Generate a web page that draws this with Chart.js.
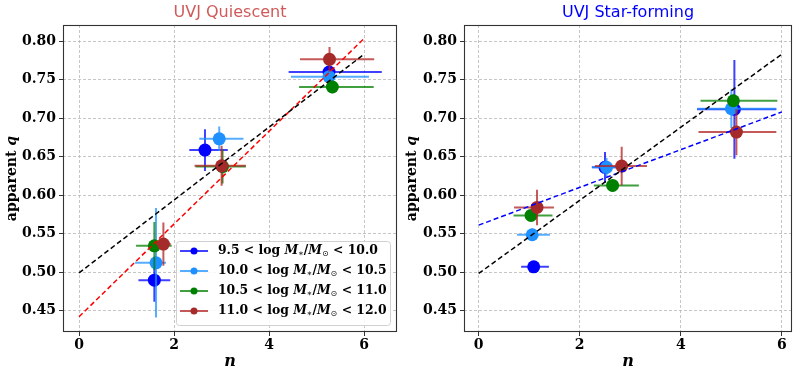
<!DOCTYPE html>
<html><head><meta charset="utf-8">
<script src="https://cdn.jsdelivr.net/npm/chart.js@4/dist/chart.umd.min.js"></script>
<style>
html,body{margin:0;padding:0;background:#fff;}
#wrap{position:relative;width:793px;height:372px;overflow:hidden;background:#fff;}
#c1{position:absolute;left:0;top:0;width:400px;height:372px;}
#c2{position:absolute;left:400px;top:0;width:393px;height:372px;}
</style></head><body>
<div id="wrap"><canvas id="c1" width="400" height="372"></canvas><canvas id="c2" width="393" height="372"></canvas></div>
<script>
// ---------- data ----------
const binLow  = ['9.5', '10.0', '10.5', '11.0'];
const binHigh = ['10.0', '10.5', '11.0', '12.0'];
const binColors = ['#0000ff', '#1e90ff', '#008000', '#a52a2a'];
const binErrColors = ['rgba(0,0,255,0.75)', 'rgba(30,144,255,0.75)', 'rgba(0,128,0,0.75)', 'rgba(178,34,34,0.75)'];
const xTicks = [0, 2, 4, 6];
const yTicks = [0.45, 0.50, 0.55, 0.60, 0.65, 0.70, 0.75, 0.80];
const fitN = [0, 6];

// UVJ Quiescent (per mass bin: blue, light blue, green, dark red)
const quiN    = [[1.585, 2.65, 5.26], [1.62, 2.95, 5.26], [1.585, 3.02, 5.33], [1.775, 3.00, 5.27]];
const quiQ    = [[0.4896, 0.6584, 0.7597], [0.5121, 0.6731, 0.7537], [0.5342, 0.637, 0.7403], [0.5364, 0.638, 0.7762]];
const quiNlo  = [[1.25, 2.32, 4.41], [1.18, 2.53, 4.46], [1.20, 2.45, 4.63], [1.62, 2.43, 4.65]];
const quiNhi  = [[1.92, 3.13, 6.37], [1.83, 3.46, 6.10], [1.95, 3.51, 6.20], [1.93, 3.51, 6.21]];
const quiQerr = [[0.028, 0.027, 0.010], [0.071, 0.016, 0.008], [0.031, 0.022, 0.008], [0.028, 0.026, 0.016]];
const quiFitAll = [0.499, 0.783];
const quiFitRed = [0.442, 0.8035];

// UVJ Star-forming
const sfN    = [[1.089, 2.50, 5.06], [1.06, 2.53, 5.00], [1.036, 2.65, 5.04], [1.155, 2.83, 5.10]];
const sfQ    = [[0.5069, 0.636, 0.7113], [0.5485, 0.636, 0.7121], [0.5736, 0.6126, 0.7225], [0.584, 0.6377, 0.6818]];
const sfNlo  = [[0.84, 2.24, 4.32], [0.76, 2.24, 4.32], [0.69, 2.28, 4.39], [0.70, 2.30, 4.35]];
const sfNhi  = [[1.39, 2.82, 5.89], [1.41, 2.82, 5.89], [1.46, 3.17, 5.91], [1.49, 3.33, 5.89]];
const sfQerr = [[0.006, 0.020, 0.064], [0.008, 0.012, 0.025], [0.005, 0.008, 0.008], [0.023, 0.025, 0.030]];
const sfFitAll = [0.4983, 0.783];
const sfFitBlue = [0.561, 0.708];

// ---------- plugins ----------
const SERIF = '"DejaVu Serif", serif';
const errPlugin = {
  id: 'errbars',
  beforeDatasetDraw(chart, args) {
    const ds = chart.data.datasets[args.index];
    if (!ds.nlo) return;
    const xs = chart.scales.x, ys = chart.scales.y, ctx = chart.ctx;
    ctx.save();
    ctx.strokeStyle = ds.errColor; ctx.lineWidth = 2; ctx.setLineDash([]);
    ds.data.forEach((p, i) => {
      const x = xs.getPixelForValue(p.x), y = ys.getPixelForValue(p.y);
      ctx.beginPath();
      ctx.moveTo(xs.getPixelForValue(ds.nlo[i]), y);
      ctx.lineTo(xs.getPixelForValue(ds.nhi[i]), y);
      ctx.moveTo(x, ys.getPixelForValue(p.y - ds.qerr[i]));
      ctx.lineTo(x, ys.getPixelForValue(p.y + ds.qerr[i]));
      ctx.stroke();
    });
    ctx.restore();
  }
};

function drawParts(ctx, x, y, parts) {
  let cx = x;
  parts.forEach(p => {
    ctx.font = p.f;
    ctx.fillText(p.t, cx, y + (p.dy || 0));
    cx += ctx.measureText(p.t).width;
  });
  return cx;
}
function partsWidth(ctx, parts) {
  let w = 0;
  parts.forEach(p => { ctx.font = p.f; w += ctx.measureText(p.t).width; });
  return w;
}

const framePlugin = {
  id: 'frame',
  afterDraw(chart, args, opts) {
    const ctx = chart.ctx, a = chart.chartArea;
    ctx.save();
    ctx.strokeStyle = '#333'; ctx.lineWidth = 1.1; ctx.setLineDash([]);
    ctx.strokeRect(a.left + 0.5, a.top + 0.5, a.right - a.left - 1, a.bottom - a.top - 1);
    // y axis title "apparent q"
    const parts = [
      { t: 'apparent ', f: 'bold 14px ' + SERIF },
      { t: 'q', f: 'italic bold 14px ' + SERIF }
    ];
    ctx.fillStyle = '#000';
    ctx.translate(a.left - opts.ylabOff, (a.top + a.bottom) / 2);
    ctx.rotate(-Math.PI / 2);
    ctx.textBaseline = 'middle';
    const w = partsWidth(ctx, parts);
    drawParts(ctx, -w / 2, 0, parts);
    ctx.restore();
    if (opts.legend) {
      const L = a.right - 221, T = a.bottom - 91, W = 214, H = 84;
      ctx.save();
      ctx.fillStyle = 'rgba(255,255,255,0.85)';
      ctx.strokeStyle = '#d0d0d0'; ctx.lineWidth = 1;
      ctx.beginPath();
      ctx.roundRect(L + 0.5, T + 0.5, W, H, 3);
      ctx.fill(); ctx.stroke();
      ctx.textBaseline = 'middle';
      for (let i = 0; i < 4; i++) {
        const ry = T + 10 + i * 20;
        ctx.strokeStyle = binErrColors[i]; ctx.lineWidth = 2;
        ctx.beginPath(); ctx.moveTo(L + 4, ry); ctx.lineTo(L + 32, ry); ctx.stroke();
        ctx.fillStyle = binColors[i];
        ctx.beginPath(); ctx.arc(L + 18, ry, 3.5, 0, Math.PI * 2); ctx.fill();
        ctx.fillStyle = '#000';
        const fb = 'bold 12.4px ' + SERIF, fi = 'italic bold 12.4px ' + SERIF;
        drawParts(ctx, L + 42, ry, [
          { t: binLow[i] + ' < log ', f: fb },
          { t: 'M', f: fi },
          { t: '∗', f: 'bold 8px ' + SERIF, dy: 3 },
          { t: '/', f: fb },
          { t: 'M', f: fi },
          { t: '⊙', f: '8px "DejaVu Sans", sans-serif', dy: 3 },
          { t: ' < ' + binHigh[i], f: fb }
        ]);
      }
      ctx.restore();
    }
  }
};

function makeDatasets(N, Q, Nlo, Nhi, Qerr, fits) {
  const ds = [];
  fits.forEach(f => {
    ds.push({
      type: 'scatter', showLine: true, data: fitN.map((n, i) => ({ x: n, y: f.q[i] })),
      borderColor: f.c, borderWidth: 1.5, borderDash: [5, 3], pointRadius: 0, order: 0, fill: false
    });
  });
  for (let b = 0; b < 4; b++) {
    ds.push({
      type: 'scatter', data: N[b].map((n, i) => ({ x: n, y: Q[b][i] })),
      nlo: Nlo[b], nhi: Nhi[b], qerr: Qerr[b], errColor: binErrColors[b],
      backgroundColor: binColors[b], borderWidth: 0, pointRadius: 6.5, order: 4 - b
    });
  }
  return ds;
}

function makeChart(id, title, titleColor, xmin, xmax, datasets, yw, padRight, ylabOff, legend) {
  return new Chart(document.getElementById(id), {
    type: 'scatter',
    data: { datasets },
    options: {
      responsive: false, animation: false, events: [],
      layout: { autoPadding: false, padding: { left: 0, right: padRight, top: 0, bottom: 0 } },
      plugins: {
        legend: { display: false }, tooltip: { enabled: false },
        title: { display: true, text: title, color: titleColor, fullSize: false,
          font: { family: '"DejaVu Sans", sans-serif', size: 16, weight: 'normal' },
          padding: { top: 3.7, bottom: 2.1 } },
        frame: { ylabOff, legend }
      },
      scales: {
        x: {
          type: 'linear', min: xmin, max: xmax,
          afterBuildTicks: s => { s.ticks = xTicks.map(v => ({ value: v })); },
          afterFit: s => { s.height = 40; },
          ticks: { callback: v => String(v), color: '#000', padding: 1, maxRotation: 0,
            font: { family: SERIF, weight: 'bold', size: 14 } },
          grid: { color: '#b8b8b8', lineWidth: 0.8, tickLength: 4, tickColor: '#333', tickWidth: 1, tickBorderDash: [] },
          border: { display: false, dash: [3, 2] },
          title: { display: true, text: 'n', color: '#000', padding: { top: 0, bottom: 1 },
            font: { family: SERIF, style: 'italic', weight: 'bold', size: 16 } }
        },
        y: {
          type: 'linear', min: 0.4223, max: 0.8208,
          afterBuildTicks: s => { s.ticks = yTicks.map(v => ({ value: v })); },
          afterFit: s => { s.width = yw; },
          ticks: { callback: v => v.toFixed(2), color: '#000', padding: 3,
            font: { family: SERIF, weight: 'bold', size: 14 } },
          grid: { color: '#b8b8b8', lineWidth: 0.8, tickLength: 4, tickColor: '#333', tickWidth: 1, tickBorderDash: [] },
          border: { display: false, dash: [3, 2] }
        }
      }
    },
    plugins: [errPlugin, framePlugin]
  });
}

makeChart('c1', 'UVJ Quiescent', '#d05a5a', -0.337, 6.69,
  makeDatasets(quiN, quiQ, quiNlo, quiNhi, quiQerr, [{ q: quiFitAll, c: '#000000' }, { q: quiFitRed, c: '#ff0000' }]),
  63, 3, 51, true);
makeChart('c2', 'UVJ Star-forming', '#0000ff', -0.29, 6.2,
  makeDatasets(sfN, sfQ, sfNlo, sfNhi, sfQerr, [{ q: sfFitAll, c: '#000000' }, { q: sfFitBlue, c: '#0000ff' }]),
  64, 1, 52, false);
</script>
</body></html>
